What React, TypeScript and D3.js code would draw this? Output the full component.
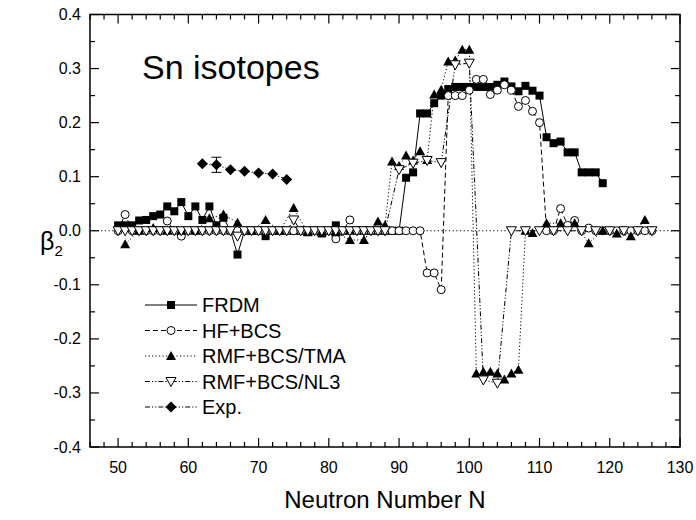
import React from "react";
import * as d3 from "d3";

// ---------- data ----------
const frdmN = [50,51,52,53,54,55,56,57,58,59,60,61,62,63,64,65,66,67,68,69,70,71,72,73,74,75,76,77,78,79,80,81,82,83,84,85,86,87,88,89,90,91,92,93,94,95,96,97,98,99,100,101,102,103,104,105,106,107,108,109,110,111,112,113,114,115,116,117,118,119];
const frdmB = [0.01,0.01,0.01,0.019,0.02,0.027,0.03,0.045,0.036,0.053,0.027,0.045,0.02,0.045,0.01,0.024,0.0,-0.044,0.0,0.0,0.0,-0.01,0,0,0,0,0,0,0,-0.005,0,0.01,0,0,0,0,0,0,0,0,0,0.098,0.108,0.217,0.217,0.236,0.25,0.262,0.266,0.266,0.266,0.266,0.266,0.266,0.27,0.276,0.267,0.258,0.268,0.259,0.25,0.173,0.162,0.165,0.145,0.145,0.108,0.108,0.108,0.088];

const hfN = [50,51,52,53,54,55,56,57,58,59,60,61,62,63,64,65,66,67,68,69,70,71,72,73,74,75,76,77,78,79,80,81,82,83,84,85,86,87,88,89,90,91,92,93,94,95,96,97,98,99,100,101,102,103,104,105,106,107,108,109,110,111,112,113,114,115,116,117,118,119,120,121,122,123,124,125,126];
const hfB = [0,0.03,0,0,0,0,0,0.018,0,-0.01,0,0,0,0,0,0,0,0,0,0,0,0,0,0,0,0,0,0,0,0,0,-0.015,0,0.02,0,0,0,0,0,0,0,0,0,0,-0.078,-0.078,-0.109,0.25,0.25,0.25,0.26,0.28,0.28,0.252,0.26,0.27,0.26,0.23,0.241,0.221,0.2,0,0,0.041,0.01,0.019,0,0.005,0,0,0,0,0,0,0,0,0];

const tmaN = [51,53,55,57,59,61,63,65,67,69,71,73,75,77,79,81,83,85,87,88,89,90,91,92,93,94,95,96,97,98,99,100,101,102,103,104,105,106,107,108,109,111,113,115,117,119,121,123,125];
const tmaB = [-0.025,0,0.005,0,0,0,0.023,0.03,0.015,0,0.02,0,0.042,-0.003,-0.003,-0.003,-0.017,-0.017,0.017,0.01,0.128,0.12,0.139,0.13,0.147,0.131,0.252,0.261,0.313,0.315,0.335,0.335,-0.264,-0.261,-0.261,-0.264,-0.275,-0.264,-0.257,0,-0.004,0.014,0.014,0.014,-0.023,0,-0.005,-0.01,0.02];

const nl3N = [50,51,52,53,54,55,56,57,58,59,60,61,62,63,64,65,66,67,68,69,70,71,72,73,74,75,76,77,78,79,80,81,82,83,84,85,86,87,88,90,92,94,96,98,100,102,104,106,108,110,112,114,116,118,120,122,124,126];
const nl3B = [0,0,0,0,0,0,0,0,0,0,0,0,0,0,0,0,0,-0.01,0,0,0,0,0,0,0,0.02,0,0,0,0,0,0,0,0,0,0,0,0,0,0.113,0.125,0.13,0.126,0.307,0.31,-0.276,-0.282,0,0,0,0,0,0,0,0,0,0,0];

const expN = [62,64,66,68,70,72,74];
const expB = [0.124,0.122,0.113,0.11,0.107,0.105,0.095];
const expErr = [0,0.014,0,0,0,0,0];

const xTicks = [50,60,70,80,90,100,110,120,130];
const yTicks = [-0.4,-0.3,-0.2,-0.1,0.0,0.1,0.2,0.3,0.4];
const legendLabels = ["FRDM","HF+BCS","RMF+BCS/TMA","RMF+BCS/NL3","Exp."];

// ---------- layout ----------
const W = 696, H = 520;
const L = 90, R = 680, T = 14.5, B = 447;
const x = d3.scaleLinear().domain([46,130]).range([L,R]);
const y = d3.scaleLinear().domain([-0.4,0.4]).range([B,T]);
const FONT = "'Liberation Sans', Arial, Helvetica, sans-serif";

const line = d3.line<[number,number]>().x(d => x(d[0])).y(d => y(d[1]));
const zip = (a: number[], b: number[]) => a.map((v,i) => [v,b[i]] as [number,number]);

const dashes = {
  solid: undefined,
  dash: "5,3",
  dot: "1.2,2.3",
  dashdotdot: "5,2,1.2,2,1.2,2",
};

type MarkerKind = "square" | "circle" | "up" | "down" | "diamond";

function Marker({kind, cx, cy}: {kind: MarkerKind; cx: number; cy: number}) {
  switch (kind) {
    case "square":
      return <rect x={cx-4} y={cy-4} width={8} height={8} fill="#000" />;
    case "circle":
      return <circle cx={cx} cy={cy} r={4} fill="#fff" stroke="#000" strokeWidth={1} />;
    case "up":
      return <path d={`M${cx},${cy-5} L${cx+5},${cy+4} L${cx-5},${cy+4} Z`} fill="#000" />;
    case "down":
      return <path d={`M${cx-5},${cy-4} L${cx+5},${cy-4} L${cx},${cy+5} Z`} fill="#fff" stroke="#000" strokeWidth={1} />;
    case "diamond":
      return <path d={`M${cx},${cy-5.5} L${cx+5.5},${cy} L${cx},${cy+5.5} L${cx-5.5},${cy} Z`} fill="#000" />;
  }
}

const series: {name: string; N: number[]; B: number[]; dash?: string; marker: MarkerKind}[] = [
  {name: legendLabels[0], N: frdmN, B: frdmB, dash: dashes.solid, marker: "square"},
  {name: legendLabels[1], N: hfN, B: hfB, dash: dashes.dash, marker: "circle"},
  {name: legendLabels[2], N: tmaN, B: tmaB, dash: dashes.dot, marker: "up"},
  {name: legendLabels[3], N: nl3N, B: nl3B, dash: dashes.dashdotdot, marker: "down"},
  {name: legendLabels[4], N: expN, B: expB, dash: dashes.dashdotdot, marker: "diamond"},
];

export default function App() {
  const xMinor = d3.range(46, 130.01, 2);
  const yMinor = d3.range(-0.4, 0.401, 0.05);
  return (
    <svg width={W} height={H} style={{display: "block", position: "absolute", left: 0, top: 0}} fontFamily={FONT}>
      <rect width={W} height={H} fill="#fff" />
      {/* zero reference line */}
      <line x1={L} x2={R} y1={y(0)} y2={y(0)} stroke="#000" strokeWidth={1} strokeDasharray="1.2,2.5" />
      {/* series lines */}
      {series.map(s => (
        <path key={s.name+"l"} d={line(zip(s.N, s.B)) || ""} fill="none" stroke="#000" strokeWidth={1} strokeDasharray={s.dash} />
      ))}
      {/* error bars */}
      {expN.map((n,i) => expErr[i] > 0 ? (
        <g key={"e"+n} stroke="#000" strokeWidth={1}>
          <line x1={x(n)} x2={x(n)} y1={y(expB[i]-expErr[i])} y2={y(expB[i]+expErr[i])} />
          <line x1={x(n)-5} x2={x(n)+5} y1={y(expB[i]-expErr[i])} y2={y(expB[i]-expErr[i])} />
          <line x1={x(n)-5} x2={x(n)+5} y1={y(expB[i]+expErr[i])} y2={y(expB[i]+expErr[i])} />
        </g>
      ) : null)}
      {/* markers */}
      {series.map(s => (
        <g key={s.name+"m"}>
          {s.N.map((n,i) => <Marker key={n} kind={s.marker} cx={x(n)} cy={y(s.B[i])} />)}
        </g>
      ))}
      {/* frame */}
      <rect x={L} y={T} width={R-L} height={B-T} fill="none" stroke="#000" strokeWidth={1.5} />
      {/* ticks */}
      <g stroke="#000" strokeWidth={1.2}>
        {xMinor.map(v => {
          const major = Math.abs(v % 10) < 1e-6;
          const len = major ? 9 : 5;
          return (
            <g key={"xt"+v}>
              <line x1={x(v)} x2={x(v)} y1={B} y2={B-len} />
              <line x1={x(v)} x2={x(v)} y1={T} y2={T+len} />
            </g>
          );
        })}
        {yMinor.map((v,i) => {
          const major = i % 2 === 0;
          const len = major ? 9 : 5;
          return (
            <g key={"yt"+i}>
              <line x1={L} x2={L+len} y1={y(v)} y2={y(v)} />
              <line x1={R} x2={R-len} y1={y(v)} y2={y(v)} />
            </g>
          );
        })}
      </g>
      {/* tick labels */}
      {xTicks.map(v => (
        <text key={"xl"+v} x={x(v)} y={B+26} fontSize={16} textAnchor="middle" fill="#000">{v}</text>
      ))}
      {yTicks.map(v => (
        <text key={"yl"+v} x={L-9} y={y(v)+5.5} fontSize={16} textAnchor="end" fill="#000">{v.toFixed(1)}</text>
      ))}
      {/* axis titles */}
      <text x={(L+R)/2} y={508} fontSize={24} textAnchor="middle" fill="#000">Neutron Number N</text>
      <text x={40} y={250} fontSize={25} fill="#000">β<tspan fontSize={15} dy={6}>2</tspan></text>
      {/* annotation */}
      <text x={142} y={79} fontSize={34} fill="#000">Sn isotopes</text>
      {/* legend */}
      {series.map((s,i) => {
        const ly = 305 + i*25.5;
        return (
          <g key={"lg"+s.name}>
            <line x1={145} x2={197} y1={ly} y2={ly} stroke="#000" strokeWidth={1} strokeDasharray={s.dash} />
            <Marker kind={s.marker} cx={171} cy={ly} />
            <text x={202} y={ly+7} fontSize={20} fill="#000">{s.name}</text>
          </g>
        );
      })}
    </svg>
  );
}
